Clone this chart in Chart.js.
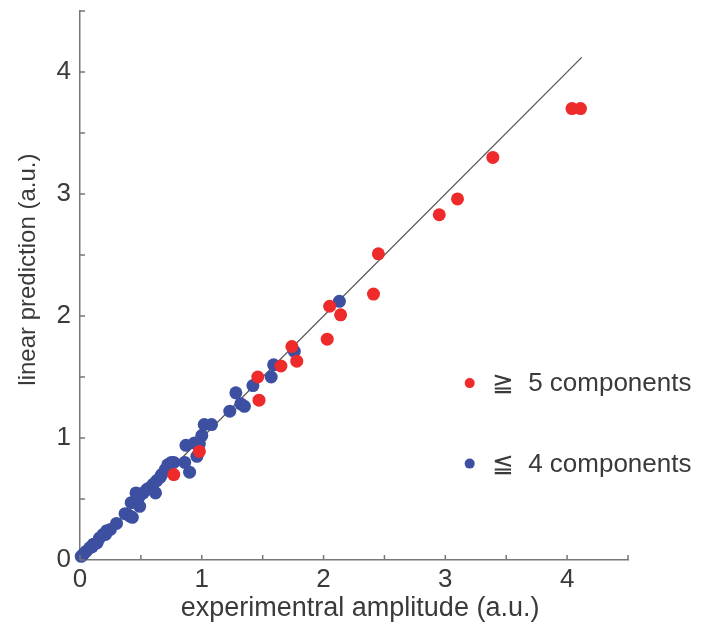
<!DOCTYPE html>
<html>
<head>
<meta charset="utf-8">
<style>
  html, body { margin: 0; padding: 0; background: #fff; }
  #wrap { width: 702px; height: 635px; position: relative; }
</style>
<script src="https://cdn.jsdelivr.net/npm/chart.js@4/dist/chart.umd.min.js"></script>
</head>
<body>
<div id="wrap"><canvas id="scatterChart" width="702" height="635"></canvas></div>
<script>
// >= 5 components (red)
const redX = [0.77, 0.98, 1.46, 1.47, 1.65, 1.74, 1.78, 2.03, 2.05, 2.14, 2.41, 2.45, 2.95, 3.10, 3.39, 4.04, 4.11];
const redY = [0.70, 0.89, 1.50, 1.31, 1.59, 1.75, 1.63, 1.81, 2.08, 2.01, 2.18, 2.51, 2.83, 2.96, 3.30, 3.70, 3.70];

// <= 4 components (blue)
const blueX = [0.01, 0.03, 0.05, 0.08, 0.10, 0.11, 0.14, 0.16, 0.19, 0.21, 0.22, 0.25, 0.30, 0.37, 0.41, 0.43,
  0.45, 0.42, 0.49, 0.48, 0.49, 0.50, 0.52, 0.46, 0.55, 0.57, 0.60, 0.62, 0.63, 0.66, 0.67, 0.70, 0.72, 0.75,
  0.77, 0.86, 0.90, 0.87, 0.94, 0.98, 0.96, 1.00, 1.02, 1.08, 1.23, 1.28, 1.32, 1.35, 1.42, 1.57, 1.59, 1.76, 2.13];
const blueY = [0.03, 0.05, 0.07, 0.10, 0.11, 0.13, 0.14, 0.18, 0.21, 0.21, 0.24, 0.25, 0.30, 0.38, 0.36, 0.35,
  0.48, 0.47, 0.44, 0.51, 0.53, 0.54, 0.55, 0.55, 0.58, 0.59, 0.62, 0.55, 0.65, 0.68, 0.70, 0.74, 0.78, 0.80,
  0.80, 0.80, 0.72, 0.94, 0.96, 0.95, 0.85, 1.02, 1.11, 1.11, 1.22, 1.37, 1.28, 1.26, 1.43, 1.50, 1.60, 1.71, 2.12];

// y = x reference line
const lineX = [0, 4.12];
const lineY = [0, 4.12];

const legendLabels = ["\u2267  5 components", "\u2266  4 components"];
const xTitle = "experimentral amplitude (a.u.)";
const yTitle = "linear prediction (a.u.)";

const RED = "#ee2a2b";
const BLUE = "#3c4fa0";
const TEXT = "#3a3a3a";
const AXIS = "#777";
const FONT = "'Liberation Sans', Arial, sans-serif";

const toPoints = (xs, ys) => xs.map((x, i) => ({ x: x, y: ys[i] }));

// ticks pointing into the plot, like the original figure
const inwardTicks = {
  id: "inwardTicks",
  afterDraw: (chart) => {
    const ctx = chart.ctx;
    const xs = chart.scales.x;
    const ys = chart.scales.y;
    const len = 5;
    ctx.save();
    ctx.strokeStyle = AXIS;
    ctx.lineWidth = 1.5;
    ctx.beginPath();
    xs.ticks.forEach((t) => {
      const px = xs.getPixelForValue(t.value);
      ctx.moveTo(px, ys.bottom);
      ctx.lineTo(px, ys.bottom - len);
    });
    ys.ticks.forEach((t) => {
      const py = ys.getPixelForValue(t.value);
      ctx.moveTo(xs.left, py);
      ctx.lineTo(xs.left + len, py);
    });
    ctx.stroke();
    ctx.restore();
  },
};

// axis titles, placed where the original has them (not quite centred)
const axisTitles = {
  id: "axisTitles",
  afterDraw: (chart) => {
    const ctx = chart.ctx;
    const xs = chart.scales.x;
    const ys = chart.scales.y;
    ctx.save();
    ctx.fillStyle = TEXT;
    ctx.textAlign = "center";
    ctx.textBaseline = "middle";
    ctx.font = "27px " + FONT;
    ctx.fillText(xTitle, xs.getPixelForValue(2.3), 609);
    ctx.translate(28, ys.getPixelForValue(2.38));
    ctx.rotate(-Math.PI / 2);
    ctx.font = "24px " + FONT;
    ctx.fillText(yTitle, 0, 0);
    ctx.restore();
  },
};

// legend inside the plot on the right
const sideLegend = {
  id: "sideLegend",
  afterDraw: (chart) => {
    const ctx = chart.ctx;
    const xs = chart.scales.x;
    const ys = chart.scales.y;
    const rows = [
      { label: legendLabels[0], color: RED, y: 1.45 },
      { label: legendLabels[1], color: BLUE, y: 0.79 },
    ];
    const dotX = xs.getPixelForValue(3.2);
    ctx.save();
    ctx.font = "26px " + FONT;
    ctx.textBaseline = "middle";
    rows.forEach((r) => {
      const py = ys.getPixelForValue(r.y);
      ctx.fillStyle = r.color;
      ctx.beginPath();
      ctx.arc(dotX, py, 5, 0, Math.PI * 2);
      ctx.fill();
      ctx.fillStyle = TEXT;
      ctx.fillText(r.label, dotX + 22, py + 1);
    });
    ctx.restore();
  },
};

const ctx = document.getElementById("scatterChart");

const chart = new Chart(ctx, {
  type: "scatter",
  data: {
    datasets: [
      {
        label: "\u2267 5 components",
        data: toPoints(redX, redY),
        backgroundColor: RED,
        borderWidth: 0,
        pointRadius: 6.5,
        clip: false,
        order: 1,
      },
      {
        label: "\u2266 4 components",
        data: toPoints(blueX, blueY),
        backgroundColor: BLUE,
        borderWidth: 0,
        pointRadius: 6.5,
        clip: false,
        order: 2,
      },
      {
        type: "line",
        label: "y = x",
        data: toPoints(lineX, lineY),
        borderColor: "#555",
        borderWidth: 1.3,
        pointRadius: 0,
        order: 3,
      },
    ],
  },
  options: {
    responsive: false,
    animation: false,
    devicePixelRatio: 1,
    layout: { padding: { top: 11, right: 74, left: 0, bottom: 0 } },
    plugins: {
      legend: { display: false },
      tooltip: { enabled: false },
    },
    scales: {
      x: {
        type: "linear",
        min: 0,
        max: 4.5,
        afterFit: (scale) => { scale.height = 75; },
        grid: { display: false, drawTicks: false },
        border: { display: true, color: AXIS, width: 1.5 },
        ticks: {
          stepSize: 0.5,
          padding: 4,
          color: TEXT,
          font: { family: FONT, size: 26 },
          maxRotation: 0,
          autoSkip: false,
          callback: (v) => (Number.isInteger(v) && v <= 4 ? String(v) : ""),
        },
      },
      y: {
        type: "linear",
        min: 0,
        max: 4.5,
        afterFit: (scale) => {
          scale.width = 80;
          // no extra room above the top tick
          scale.paddingTop = 0;
        },
        grid: { display: false, drawTicks: false },
        border: { display: true, color: AXIS, width: 1.5 },
        ticks: {
          stepSize: 0.5,
          padding: 9,
          color: TEXT,
          autoSkip: false,
          font: { family: FONT, size: 26 },
          callback: (v) => (Number.isInteger(v) && v <= 4 ? String(v) : ""),
        },
      },
    },
  },
  plugins: [inwardTicks, axisTitles, sideLegend],
});
</script>
</body>
</html>
